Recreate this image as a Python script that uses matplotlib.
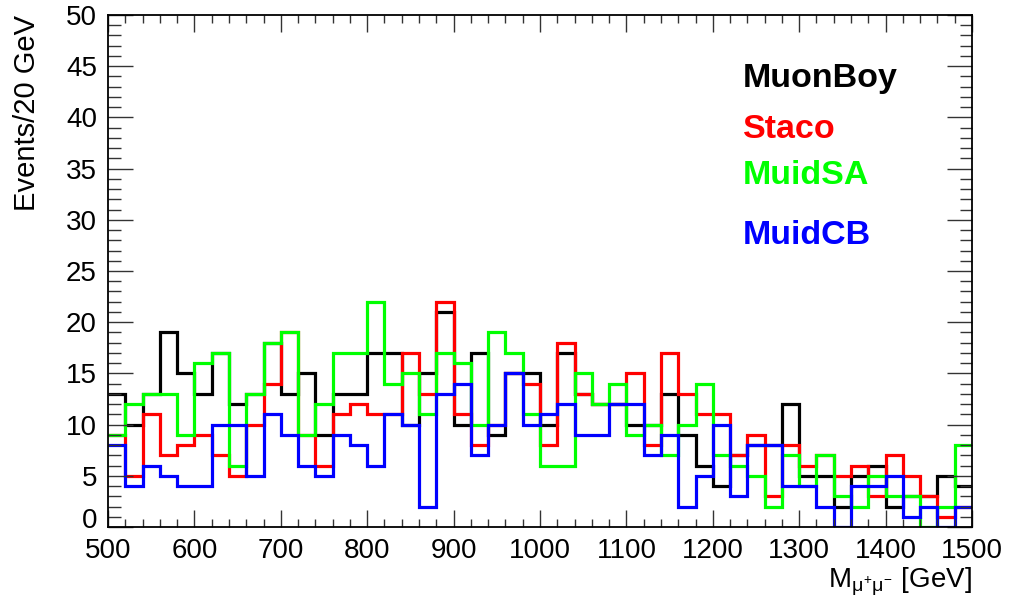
import matplotlib
matplotlib.use("Agg")
import matplotlib.pyplot as plt
import numpy as np
from matplotlib.ticker import MultipleLocator, FuncFormatter

# 20 GeV bins from 500 to 1500
edges = np.arange(500, 1501, 20)

muonboy = [13, 10, 13, 19, 15, 13, 17, 12, 13, 18,
           13, 15, 9, 13, 13, 17, 17, 10, 15, 21,
           10, 17, 9, 15, 15, 10, 17, 13, 12, 12,
           10, 10, 13, 9, 6, 4, 7, 8, 8, 12,
           5, 5, 2, 5, 6, 2, 3, 3, 5, 4]
staco = [9, 5, 11, 7, 8, 9, 7, 5, 10, 14,
         19, 9, 6, 11, 12, 11, 11, 17, 13, 22,
         11, 8, 10, 15, 14, 8, 18, 13, 12, 12,
         15, 8, 17, 13, 11, 11, 7, 9, 3, 8,
         6, 7, 5, 6, 3, 7, 5, 3, 1, 2]
muidsa = [9, 12, 13, 13, 9, 16, 17, 6, 13, 18,
          19, 9, 12, 17, 17, 22, 14, 15, 11, 17,
          16, 10, 19, 17, 11, 6, 6, 15, 12, 14,
          9, 10, 7, 10, 14, 7, 6, 5, 2, 7,
          4, 7, 3, 2, 5, 3, 3, 0, 2, 8]
muidcb = [8, 4, 6, 5, 4, 4, 10, 10, 5, 11,
          9, 6, 5, 9, 8, 6, 11, 10, 2, 13,
          14, 7, 10, 15, 10, 11, 12, 9, 9, 12,
          12, 7, 9, 2, 5, 10, 3, 8, 8, 4,
          4, 2, 0, 4, 4, 5, 1, 2, 0, 2]

names = ["MuonBoy", "Staco", "MuidSA", "MuidCB"]
colors = ["#000000", "#ff0000", "#00ff00", "#0000ff"]
series = [muonboy, staco, muidsa, muidcb]

plt.rcParams['font.family'] = ['Liberation Sans', 'DejaVu Sans']
plt.rcParams['mathtext.fontset'] = 'custom'
plt.rcParams['mathtext.rm'] = 'Liberation Sans'
plt.rcParams['mathtext.it'] = 'Liberation Sans'

fig = plt.figure(figsize=(10.14, 6.0), dpi=100)
ax = fig.add_axes([108/1014, 73/600, 864/1014, 512/600])

for vals, c in zip(series, colors):
    ax.stairs(vals, edges, color=c, linewidth=2.3, baseline=None)

ax.set_xlim(500, 1500)
ax.set_ylim(0, 50)
ax.xaxis.set_major_locator(MultipleLocator(100))
ax.xaxis.set_minor_locator(MultipleLocator(20))
ax.yaxis.set_major_locator(MultipleLocator(5))
ax.yaxis.set_minor_locator(MultipleLocator(1))
# the "0" is drawn separately, a little higher, so it clears the "500"
ax.yaxis.set_major_formatter(FuncFormatter(lambda v, p: "" if v == 0 else f"{v:g}"))

ax.tick_params(axis='both', which='both', direction='in', top=True, right=True,
               width=1.0, color='#333333')
ax.tick_params(axis='x', which='major', length=12, labelsize=20, pad=8)
ax.tick_params(axis='x', which='minor', length=6)
ax.tick_params(axis='y', which='major', length=18, labelsize=20, pad=8)
ax.tick_params(axis='y', which='minor', length=9)
for s in ax.spines.values():
    s.set_linewidth(1.3)

ax.annotate("0", xy=(0, 0), xycoords=('axes fraction', 'data'),
            xytext=(-8, -1), textcoords='offset points',
            ha='right', va='baseline', fontsize=20)

ax.set_ylabel("Events/20 GeV", fontsize=21, loc='top')
ax.yaxis.set_label_coords(-0.077, 1.0)
ax.set_xlabel(r"$\mathrm{M}_{\mu^{+}\mu^{-}}$ [GeV]", fontsize=20, loc='right')
ax.xaxis.set_label_coords(1.0, -0.075)

label_y = [78, 130, 176, 236]
for name, c, yp in zip(names, colors, label_y):
    fig.text(743/1014, 1 - yp/600, name, color=c, fontsize=24.5,
             fontweight='bold', va='center', ha='left')

fig.savefig("out.png", dpi=100)
